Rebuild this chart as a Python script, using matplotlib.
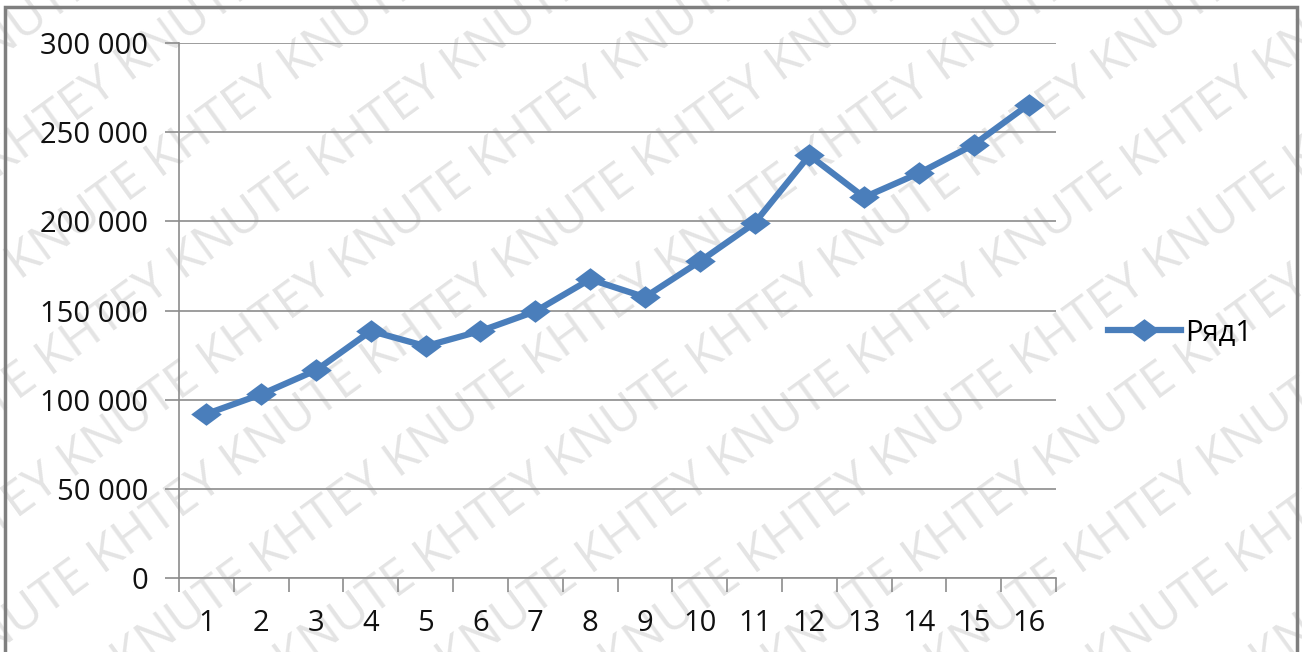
import numpy as np
import matplotlib
matplotlib.use("Agg")
import matplotlib.pyplot as plt
from matplotlib.patches import Rectangle
from matplotlib.path import Path

# Data
periods = list(range(1, 17))
values = [92000, 103000, 116500, 138500, 130000, 138500, 149500, 167500,
          157500, 177500, 199000, 237000, 213500, 227000, 243000, 265500]
yticks = [0, 50000, 100000, 150000, 200000, 250000, 300000]
series_name = "Ряд1"

plt.rcParams['font.family'] = ['Open Sans', 'DejaVu Sans']

W, H = 1302, 652
fig = plt.figure(figsize=(W / 100, H / 100), dpi=100)

# watermark "KHTEY KNUTE" tiled diagonally, kept behind the chart
wm = "KHTEY KNUTE KHTEY KNUTE KHTEY KNUTE KHTEY KNUTE KHTEY KNUTE"
for k in range(-10, 12):
    t = fig.text(0.125 * k, -0.2, wm, rotation=36, fontsize=36, color='#e4e4e4',
                 ha='left', va='bottom', rotation_mode='anchor')
    t.set_zorder(-5)

ax = fig.add_axes([179 / W, 1 - 578 / H, (1056 - 179) / W, (578 - 43) / H])
ax.patch.set_alpha(0)

# slightly wide diamond like the original marker
wide_diamond = Path([(-1.35, 0), (0, 1), (1.35, 0), (0, -1), (-1.35, 0)],
                    [Path.MOVETO, Path.LINETO, Path.LINETO, Path.LINETO, Path.CLOSEPOLY])

line, = ax.plot(periods, values, color='#4a7ebb', lw=4.5, marker=wide_diamond, ms=22,
                markeredgewidth=0, label=series_name, zorder=3)

ax.set_xlim(0.5, 16.5)
ax.set_ylim(0, 300000)
ax.set_yticks(yticks)
ax.set_yticklabels([f"{v:,}".replace(",", " ") for v in yticks])
ax.set_xticks(periods)
ax.set_xticks(np.arange(0.5, 17, 1), minor=True)
ax.tick_params(axis='x', which='major', length=0, pad=22, labelsize=21, colors='#111111')
ax.tick_params(axis='x', which='minor', length=10, color='#8c8c8c', width=1.2)
ax.tick_params(axis='y', length=10, color='#8c8c8c', width=1.2, pad=12,
               labelsize=21, colors='#111111')
ax.grid(axis='y', color='#8c8c8c', lw=1.2, zorder=1)
for s in ['top', 'right']:
    ax.spines[s].set_visible(False)
for s in ['left', 'bottom']:
    ax.spines[s].set_color('#8c8c8c')
    ax.spines[s].set_linewidth(1.2)

leg = fig.legend(handles=[line], loc='center left', bbox_to_anchor=(1108 / W, 1 - 333 / H),
                 frameon=False, fontsize=21, handlelength=2.5, handletextpad=0.15,
                 borderpad=0, borderaxespad=0)

# outer chart border
fig.patches.append(Rectangle((5 / W, -0.05), (1297 - 5) / W, 1 - 7 / H + 0.05,
                             transform=fig.transFigure, fill=False,
                             edgecolor='#7f7f7f', lw=2.5, zorder=5))

fig.savefig('out.png', dpi=100)
